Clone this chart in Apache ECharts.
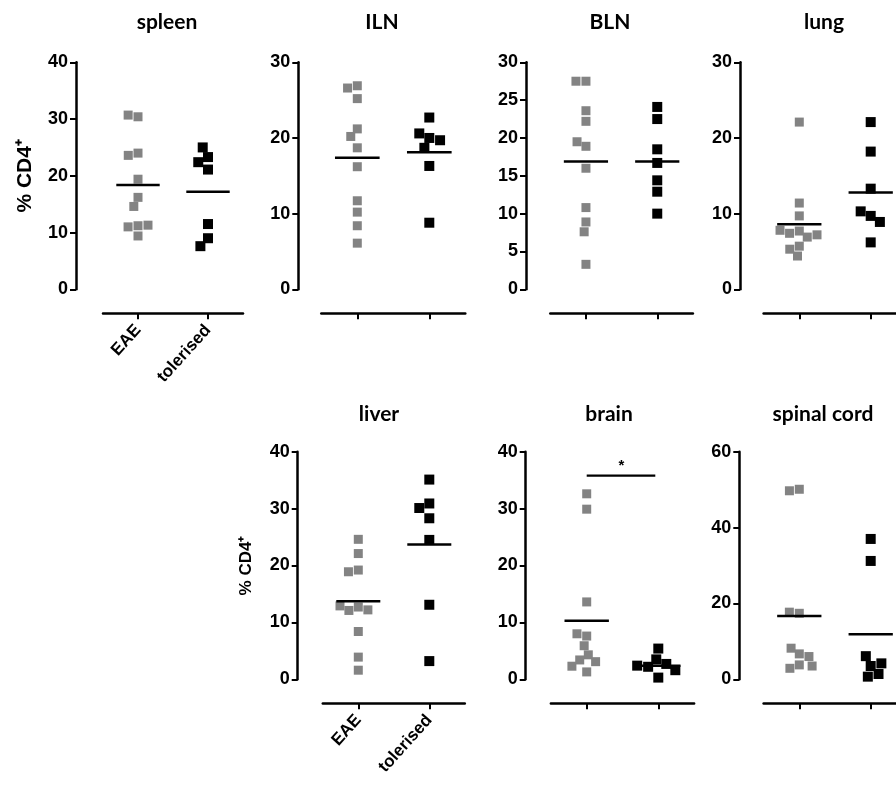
<!DOCTYPE html>
<html><head><meta charset="utf-8">
<script src="https://cdn.jsdelivr.net/npm/echarts@6/dist/echarts.min.js"></script>
<style>html,body{margin:0;padding:0;background:#fff}#c{width:896px;height:785px}</style>
</head><body><div id="c"></div>
<script>
// ---------- data ----------
const groups = ['EAE', 'tolerised'];
const tissues = ['spleen', 'ILN', 'BLN', 'lung', 'liver', 'brain', 'spinal cord'];
const yMax = [40, 30, 30, 30, 40, 40, 60];
const yInterval = [10, 10, 5, 10, 10, 10, 20];
const yName = '% CD4\u207A';

const eaeSpleen = [30.4, 30.7, 24.0, 23.6, 19.4, 16.2, 14.6, 11.2, 11.0, 11.3, 9.4];
const tolSpleen = [23.3, 25.0, 22.4, 21.1, 11.5, 9.0, 7.6];
const eaeILN = [26.9, 26.6, 25.2, 21.2, 20.2, 18.7, 16.2, 11.7, 10.2, 8.4, 6.1];
const tolILN = [22.7, 20.0, 18.7, 19.7, 20.6, 16.3, 8.8];
const eaeBLN = [27.5, 27.5, 23.6, 22.2, 18.9, 19.5, 16.0, 10.8, 8.9, 7.6, 3.3];
const tolBLN = [24.1, 22.5, 18.5, 16.7, 14.4, 12.9, 10.0];
const eaeLung = [22.1, 11.4, 9.7, 7.7, 7.4, 6.9, 7.2, 7.8, 5.7, 4.4, 5.3];
const tolLung = [22.1, 18.2, 13.3, 9.7, 10.3, 8.9, 6.2];
const eaeLiver = [24.6, 22.1, 19.2, 18.9, 12.7, 12.1, 12.2, 12.9, 8.4, 3.9, 1.6];
const tolLiver = [35.1, 30.9, 30.1, 28.3, 24.5, 13.1, 3.2];
const eaeBrain = [32.6, 29.9, 13.6, 7.6, 8.0, 5.9, 4.3, 3.4, 3.1, 2.3, 1.3];
const tolBrain = [5.4, 3.5, 2.7, 2.2, 1.6, 0.3, 2.4];
const eaeSpinal = [50.1, 49.7, 17.4, 17.7, 6.7, 8.2, 6.0, 3.8, 2.9, 3.5];
const tolSpinal = [37.0, 31.2, 3.5, 6.1, 4.2, 0.7, 1.4];

const meanEAE = [18.4, 17.4, 16.9, 8.6, 13.7, 10.3, 16.7];
const meanTol = [17.2, 18.1, 16.9, 12.8, 23.7, 2.4, 11.9];
const sigBrain = [35.8];
const sigLabel = '*';

const eaeData = [eaeSpleen, eaeILN, eaeBLN, eaeLung, eaeLiver, eaeBrain, eaeSpinal];
const tolData = [tolSpleen, tolILN, tolBLN, tolLung, tolLiver, tolBrain, tolSpinal];

// ---------- layout ----------
const layout = [
  {axisX: 76,    left: 103,   width: 140,   top: 62.3,  height: 227,   xLabels: true,  yNameSize: 21, nameGap: 40, tx: 167, ty: 22},
  {axisX: 298.3, left: 321.3, width: 144,   top: 62.3,  height: 227,   xLabels: false, tx: 382, ty: 22},
  {axisX: 526,   left: 550.3, width: 142.6, top: 62.3,  height: 227,   xLabels: false, tx: 610, ty: 22},
  {axisX: 740,   left: 763.6, width: 142.8, top: 62.3,  height: 227,   xLabels: false, tx: 824, ty: 22},
  {axisX: 297.7, left: 322.8, width: 142,   top: 451.7, height: 227.6, xLabels: true,  yNameSize: 17, nameGap: 43, tx: 379, ty: 414},
  {axisX: 525.7, left: 550.9, width: 143.2, top: 451.7, height: 227.6, xLabels: false, tx: 609, ty: 414},
  {axisX: 739.3, left: 763.6, width: 142.8, top: 451.7, height: 227.6, xLabels: false, tx: 823, ty: 414}
];

const FONT = '"Liberation Sans", Arial, sans-serif';
const grid = [], xAxis = [], yAxis = [], series = [], graphic = [];

layout.forEach((L, i) => {
  grid.push({left: L.left, top: L.top, width: L.width, height: L.height, containLabel: false, outerBoundsMode: 'none'});
  xAxis.push({
    gridIndex: i, type: 'category', data: groups, boundaryGap: true, offset: 24,
    jitter: 60, jitterOverlap: false, jitterMargin: 1,
    axisLine: {show: true, onZero: false, lineStyle: {color: '#000', width: 2.5}},
    axisTick: {show: true, alignWithLabel: true, length: 6, lineStyle: {color: '#000', width: 2}},
    axisLabel: {show: L.xLabels, interval: 0, rotate: 48, margin: 14, color: '#000',
      fontFamily: FONT, fontWeight: 'bold', fontSize: 17},
    splitLine: {show: false}
  });
  const ya = {
    gridIndex: i, type: 'value', min: 0, max: yMax[i], interval: yInterval[i],
    offset: L.left - L.axisX,
    axisLine: {show: true, lineStyle: {color: '#000', width: 2.5}},
    axisTick: {show: true, length: 6, lineStyle: {color: '#000', width: 2}},
    axisLabel: {margin: 8, color: '#000', fontFamily: FONT, fontWeight: 'bold', fontSize: 18},
    splitLine: {show: false}
  };
  if (L.yNameSize) {
    Object.assign(ya, {name: yName, nameLocation: 'middle', nameGap: L.nameGap,
      nameTextStyle: {color: '#000', fontFamily: FONT, fontWeight: 'bold', fontSize: L.yNameSize}});
  }
  yAxis.push(ya);

  series.push({
    type: 'scatter', xAxisIndex: i, yAxisIndex: i, symbol: 'rect', symbolSize: 9,
    itemStyle: {color: '#838383', opacity: 1}, data: eaeData[i].map(v => [0, v]), z: 2
  });
  series.push({
    type: 'scatter', xAxisIndex: i, yAxisIndex: i, symbol: 'rect', symbolSize: 10,
    itemStyle: {color: '#000', opacity: 1}, data: tolData[i].map(v => [1, v]), z: 2
  });
  series.push({
    type: 'custom', xAxisIndex: i, yAxisIndex: i, z: 3,
    data: [[0, meanEAE[i]], [1, meanTol[i]]],
    renderItem: (params, api) => {
      const c = api.coord([api.value(0), api.value(1)]);
      const half = api.size([1, 0])[0] * 0.31;
      return {type: 'line', shape: {x1: c[0] - half, y1: c[1], x2: c[0] + half, y2: c[1]},
        style: {stroke: '#000', lineWidth: 2.5}};
    }
  });

  graphic.push({type: 'text', x: L.tx, y: L.ty,
    style: {text: tissues[i], align: 'center', verticalAlign: 'middle', fill: '#000',
      font: 'bold 21px Lato, "Open Sans", sans-serif'}});
});

// significance bar (brain)
series.push({
  type: 'custom', xAxisIndex: 5, yAxisIndex: 5, z: 3,
  encode: {x: [0, 1], y: 2},
  data: [[0, 1, sigBrain[0]]],
  renderItem: (params, api) => {
    const p0 = api.coord([api.value(0), api.value(2)]);
    const p1 = api.coord([api.value(1), api.value(2)]);
    return {type: 'group', children: [
      {type: 'line', shape: {x1: p0[0], y1: p0[1], x2: p1[0] - 3, y2: p1[1]}, style: {stroke: '#000', lineWidth: 2.2}},
      {type: 'text', x: (p0[0] + p1[0]) / 2 - 1, y: p0[1] - 2,
        style: {text: sigLabel, align: 'center', verticalAlign: 'bottom', fill: '#000', font: 'bold 15px ' + FONT}}
    ]};
  }
});

const chart = echarts.init(document.getElementById('c'), null, {renderer: 'canvas'});
chart.setOption({animation: false, backgroundColor: '#fff', grid, xAxis, yAxis, series, graphic});
</script>
</body></html>
